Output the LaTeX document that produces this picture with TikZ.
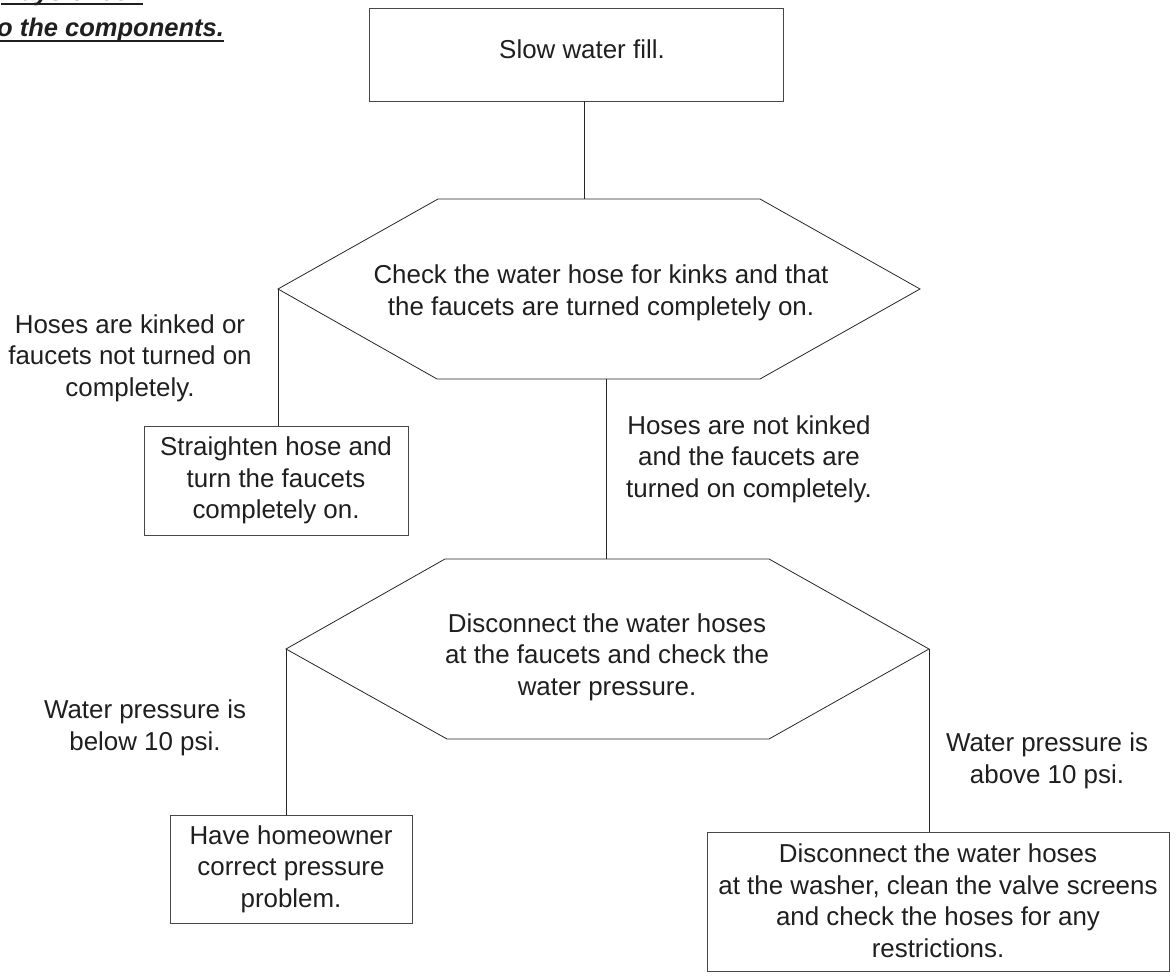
\documentclass[tikz,border=0pt]{standalone}
\usepackage{fontspec}
\setmainfont{Liberation Sans}
\newcommand\fsz{\fontsize{25.9}{31.5}\selectfont}
\newcommand\hsz{\fontsize{25.5}{30}\selectfont}
\begin{document}
\begin{tikzpicture}[x=1pt,y=-1pt,
  txt/.style={font=\fsz, text=black!88, align=center, inner sep=0pt},
  box/.style={txt, draw=black!72, line width=0.9pt, rectangle},
  hexa/.style={draw=black!85, line width=0.8pt, line join=miter},
  conn/.style={draw=black!85, line width=0.9pt},
  head/.style={font=\hsz\bfseries\itshape, text=black!88, inner sep=0pt}]
\useasboundingbox (0,0) rectangle (1176,976);
\fill[white] (0,0) rectangle (1176,976);

% header (cut at page edge, as in the reference)
\begin{scope}
\clip (0,0) rectangle (1176,976);
\node[head, anchor=base west] (hA) at (1,0.5) {ways check};
\node[head, anchor=base west] (hB) at (-3,37) {o the components.};
\draw[line width=2.2pt, black!88] ([yshift=-3.8pt]hA.base west) -- ([yshift=-3.8pt]hA.base east);
\draw[line width=2.2pt, black!88] ([yshift=-3.8pt]hB.base west) -- ([yshift=-3.8pt]hB.base east);
\end{scope}

% start box
\node[box, minimum width=414pt, minimum height=93pt] (start) at (576,54.5) {\raisebox{5pt}[\height][\depth]{\hspace*{12pt}Slow water fill.}};

% hexagon 1
\coordinate (h1l) at (278,289);
\coordinate (h1tl) at (438,199);
\coordinate (h1tr) at (760,199);
\coordinate (h1r) at (920,289);
\coordinate (h1br) at (760,379);
\coordinate (h1bl) at (437,379);
\coordinate (h1top) at (584,199);
\coordinate (h1b) at (606,379);
\draw[hexa] (h1l) -- (h1tl) -- (h1tr) -- (h1r) -- (h1br) -- (h1bl) -- cycle;
\node[txt] (q1) at (601,293) {Check the water hose for kinks and that\\the faucets are turned completely on.};

\draw[conn] (h1top |- start.south) -- (h1top);

% left branch 1
\node[txt] (l1) at (130,358) {Hoses are kinked or\\faucets not turned on\\completely.};
\node[box, minimum width=264pt, minimum height=109pt] (s1) at (276,480.5) {Straighten hose and\\turn the faucets\\completely on.};
\draw[conn] (h1l) -- (h1l |- s1.north);

% hexagon 2
\coordinate (h2l) at (286,649);
\coordinate (h2tl) at (445,559);
\coordinate (h2tr) at (769,559);
\coordinate (h2r) at (929,649);
\coordinate (h2br) at (769,739);
\coordinate (h2bl) at (447,739);
\coordinate (h2t) at (606,559);
\draw[hexa] (h2l) -- (h2tl) -- (h2tr) -- (h2r) -- (h2br) -- (h2bl) -- cycle;
\node[txt] (q2) at (607,657) {Disconnect the water hoses\\at the faucets and check the\\water pressure.};

\draw[conn] (h1b) -- (h2t);
\node[txt] (l2) at (749,459) {Hoses are not kinked\\and the faucets are\\turned on completely.};

% left branch 2
\node[txt] (l3) at (145,728) {Water pressure is\\below 10 psi.};
\node[box, minimum width=242pt, minimum height=108pt] (s2) at (291,869) {Have homeowner\\correct pressure\\problem.};
\draw[conn] (h2l) -- (h2l |- s2.north);

% right branch 2
\node[txt] (l4) at (1047,761) {Water pressure is\\above 10 psi.};
\node[box, minimum width=462pt, minimum height=139pt] (s3) at (938,901.5) {\raisebox{-2pt}[\height][\depth]{\begin{tabular}{@{}c@{}}Disconnect the water hoses\\at the washer, clean the valve screens\\and check the hoses for any\\restrictions.\end{tabular}}};
\draw[conn] (h2r) -- (h2r |- s3.north);
\end{tikzpicture}
\end{document}
